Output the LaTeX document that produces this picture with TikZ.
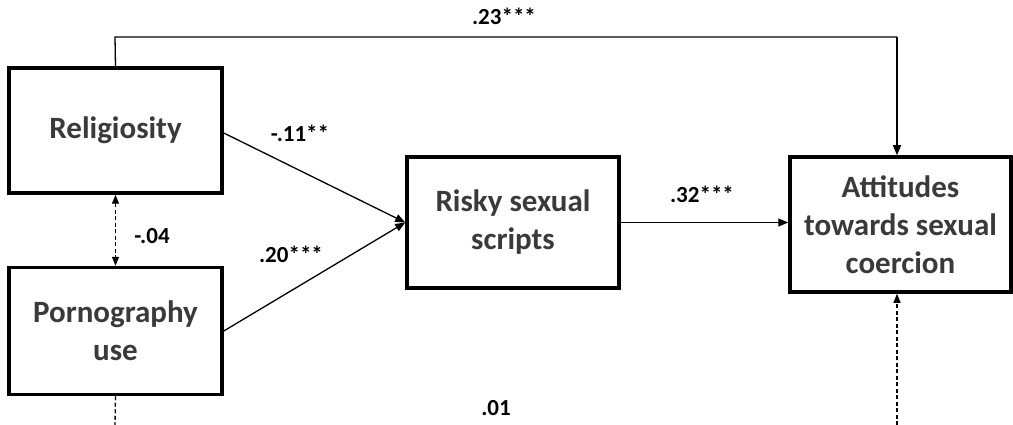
\documentclass[tikz,border=0pt]{standalone}
\usepackage{fontspec}
\setmainfont{Carlito}
\usetikzlibrary{arrows.meta}
\definecolor{txt}{HTML}{3A3A3A}
\tikzset{
  box/.style={draw=black, line width=3.5pt, fill=white, inner sep=0pt, align=center,
    text=txt, font=\fontsize{31}{38}\selectfont\bfseries},
  lbl/.style={text=black, font=\fontsize{23}{27}\selectfont\bfseries, inner sep=0pt},
  conn/.style={line width=1.3pt, -{Triangle[length=10pt,width=8pt]}},
  dconn/.style={line width=1.3pt, dash pattern=on 4pt off 2.5pt},
}
\begin{document}
\begin{tikzpicture}[x=1pt,y=-1pt]
\useasboundingbox (0,0) rectangle (1013,425);
\node[box, minimum width=213pt, minimum height=125pt] (rel) at (115.5,130.5) {Religiosity};
\node[box, minimum width=213pt, minimum height=127pt] (porn) at (115.5,331) {Pornography\\use};
\node[box, minimum width=212pt, minimum height=131pt] (risk) at (513,222.5) {Risky sexual\\scripts};
\node[box, minimum width=221pt, minimum height=135pt] (att) at (900.5,224.5) {Attitudes\\towards sexual\\coercion};

\coordinate (tl) at (115,37);
\coordinate (tr) at (897,37);
\coordinate (pb) at (115,425);
\coordinate (ab) at (897,425);

\draw[line width=1.3pt] (rel.north) -- (tl) -- (tr);
\draw[conn] (tr) -- (att.north -| tr);
\draw[conn] (rel.east |- 0,133) -- (risk.west);
\draw[conn] (porn.east |- 0,331) -- (risk.west);
\draw[conn] (risk.east) -- (att.west |- risk.east);
\draw[dconn, {Triangle[length=9pt,width=7pt]}-{Triangle[length=9pt,width=7pt]}] (rel.south) -- (porn.north);
\draw[dconn] (porn.south) -- (pb);
\draw[dconn, -{Triangle[length=9pt,width=7pt]}] (ab) -- (att.south -| ab);

\node[lbl] (l23) at (504,16) {.23***};
\node[lbl] (l11) at (300,133) {-.11**};
\node[lbl] (l20) at (291,254) {.20***};
\node[lbl] (l04) at (152,236) {-.04};
\node[lbl] (l32) at (702,194) {.32***};
\node[lbl] (l01) at (496,408) {.01};
\end{tikzpicture}
\end{document}
